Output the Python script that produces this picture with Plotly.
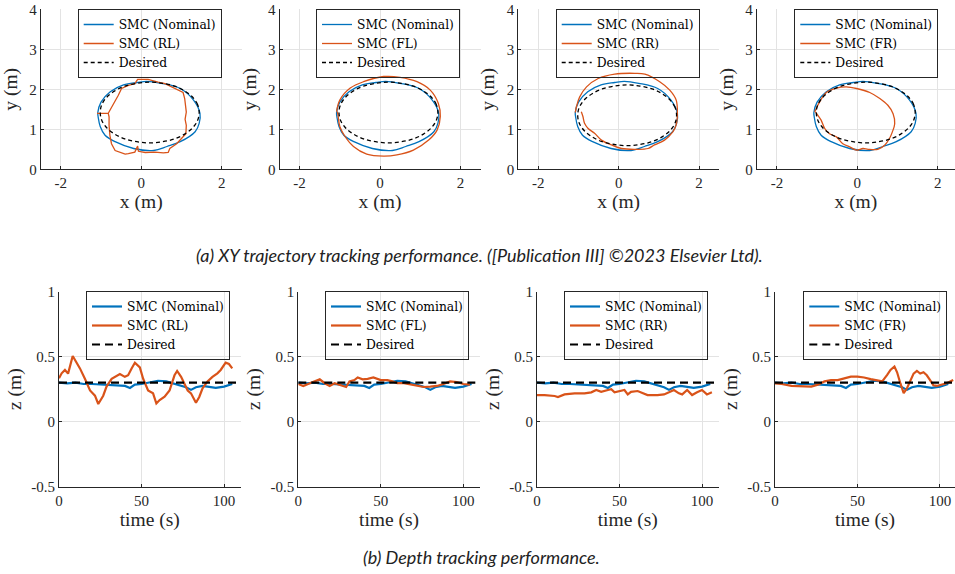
import plotly.graph_objects as go

BLUE = "#0072BD"
ORANGE = "#D95319"
AXC = "#262626"
GRID = "#e3e3e3"
SERIF = "Liberation Serif"

# ---------------- XY data (m) ----------------
nom_x = [-1.08, -1.00, -0.77, -0.44, -0.10, 0.14, 0.50, 0.97, 1.30, 1.46, 1.44, 1.34, 0.97, 0.64, 0.31, -0.19, -0.65, -0.90, -1.02, -1.07, -1.08]
nom_y = [1.42, 1.68, 1.94, 2.11, 2.17, 2.20, 2.15, 2.02, 1.73, 1.40, 1.15, 0.94, 0.69, 0.57, 0.47, 0.52, 0.69, 0.85, 1.07, 1.30, 1.42]

des_x = [1.44, 1.40, 1.28, 1.08, 0.83, 0.53, 0.21, -0.11, -0.41, -0.66, -0.86, -0.98, -1.02, -0.98, -0.86, -0.66, -0.41, -0.11, 0.21, 0.53, 0.83, 1.08, 1.28, 1.40, 1.44]
des_y = [1.42, 1.62, 1.80, 1.96, 2.08, 2.15, 2.18, 2.15, 2.08, 1.96, 1.80, 1.62, 1.42, 1.22, 1.04, 0.88, 0.76, 0.69, 0.66, 0.69, 0.76, 0.88, 1.04, 1.22, 1.42]
des3_y = [1.35, 1.55, 1.73, 1.89, 2.01, 2.08, 2.11, 2.08, 2.01, 1.89, 1.73, 1.55, 1.35, 1.15, 0.97, 0.81, 0.69, 0.62, 0.59, 0.62, 0.69, 0.81, 0.97, 1.15, 1.35]

rl_x = [-1.10, -0.95, -0.82, -0.80, -0.80, -0.78, -0.74, -0.65, -0.53, -0.40, -0.32, -0.16, -0.09, -0.07, 0.10, 0.34, 0.55, 0.67, 0.71, 0.88, 1.00, 1.11, 1.12, 1.09, 1.12, 1.10, 1.08, 1.04, 0.92, 0.75, 0.59, 0.42, 0.17, -0.09, -0.12, -0.16, -0.32, -0.49, -0.57, -0.69, -0.78, -0.82]
rl_y = [1.40, 1.41, 1.40, 1.31, 1.10, 0.85, 0.64, 0.47, 0.42, 0.38, 0.39, 0.43, 0.58, 0.45, 0.42, 0.43, 0.41, 0.42, 0.52, 0.64, 0.77, 0.89, 1.10, 1.25, 1.43, 1.60, 1.77, 1.92, 1.98, 2.06, 2.14, 2.18, 2.25, 2.25, 2.20, 2.14, 2.10, 2.02, 1.85, 1.64, 1.50, 1.40]

fl_x = [-1.08, -1.00, -0.74, -0.41, 0.09, 0.50, 0.92, 1.25, 1.45, 1.50, 1.42, 1.21, 0.83, 0.42, 0.09, -0.33, -0.66, -0.87, -1.00, -1.04, -1.06]
fl_y = [1.44, 1.73, 2.03, 2.19, 2.32, 2.30, 2.19, 1.98, 1.65, 1.32, 0.98, 0.73, 0.48, 0.36, 0.33, 0.38, 0.57, 0.82, 1.07, 1.32, 1.44]

rr_x = [-1.08, -1.05, -0.97, -0.80, -0.51, -0.10, 0.40, 0.65, 1.02, 1.27, 1.43, 1.46, 1.43, 1.35, 1.14, 0.89, 0.73, 0.40, 0.07, -0.18, -0.43, -0.60, -0.76, -0.85, -0.89, -0.93]
rr_y = [1.42, 1.57, 1.81, 2.06, 2.27, 2.38, 2.40, 2.38, 2.19, 1.98, 1.73, 1.40, 1.11, 0.94, 0.73, 0.61, 0.52, 0.50, 0.52, 0.61, 0.73, 0.90, 1.02, 1.15, 1.32, 1.44]

fr_x = [-1.06, -0.94, -0.77, -0.52, -0.27, -0.02, 0.31, 0.56, 0.76, 0.89, 0.93, 0.87, 0.80, 0.68, 0.51, 0.27, 0.14, -0.02, -0.19, -0.36, -0.52, -0.69, -0.81, -0.90, -0.98, -1.04]
fr_y = [1.43, 1.68, 1.92, 2.03, 2.06, 2.02, 1.92, 1.77, 1.60, 1.39, 1.14, 0.93, 0.77, 0.60, 0.50, 0.50, 0.52, 0.48, 0.56, 0.64, 0.81, 0.89, 1.02, 1.23, 1.35, 1.43]

# ---------------- depth data ----------------
t_nom = [0, 5, 10, 15, 20, 25, 30, 35, 40, 43, 46, 50, 55, 60, 65, 70, 74, 77, 80, 83, 87, 91, 95, 100, 105]
z_nom = [0.30, 0.295, 0.30, 0.29, 0.29, 0.285, 0.285, 0.28, 0.275, 0.26, 0.285, 0.29, 0.305, 0.315, 0.31, 0.29, 0.28, 0.265, 0.245, 0.265, 0.275, 0.27, 0.26, 0.27, 0.29]
t_des = [0, 110]
z_des = [0.3, 0.3]

t_rl = [0, 1.6, 3.6, 5.5, 8.3, 12.7, 15.7, 18.8, 21.8, 23.8, 26.8, 28.8, 31.9, 33.9, 36.9, 39.9, 41.9, 44, 46, 49, 51, 54, 57, 59, 61, 64, 67, 70, 71.6, 74, 76, 78, 80, 83, 85, 87, 90, 93, 96, 98, 101, 103, 105]
z_rl = [0.334, 0.372, 0.398, 0.37, 0.505, 0.41, 0.33, 0.24, 0.20, 0.136, 0.20, 0.27, 0.33, 0.345, 0.367, 0.345, 0.357, 0.41, 0.454, 0.418, 0.33, 0.24, 0.218, 0.14, 0.167, 0.193, 0.24, 0.357, 0.39, 0.345, 0.29, 0.24, 0.218, 0.146, 0.19, 0.257, 0.31, 0.345, 0.372, 0.398, 0.454, 0.444, 0.41]

t_fl = [0, 3, 7, 13, 16, 19, 22, 25, 29, 31, 34, 36, 39, 42, 45.5, 50, 54, 57, 60, 64, 68, 72, 76, 80, 84, 88, 92, 96, 100, 104]
z_fl = [0.29, 0.275, 0.296, 0.326, 0.296, 0.275, 0.296, 0.285, 0.267, 0.31, 0.32, 0.34, 0.326, 0.33, 0.34, 0.32, 0.32, 0.31, 0.296, 0.296, 0.285, 0.275, 0.267, 0.27, 0.275, 0.29, 0.31, 0.305, 0.29, 0.285]

t_rr = [0, 4.6, 10.7, 12.7, 16.7, 22.8, 28.8, 32.9, 35.9, 38.9, 43, 45, 47, 50, 53, 55, 57, 61, 64, 67, 73, 77, 80, 83, 86, 88, 91, 94, 97, 100, 103, 106]
z_rr = [0.205, 0.205, 0.198, 0.19, 0.21, 0.218, 0.218, 0.226, 0.244, 0.23, 0.244, 0.25, 0.226, 0.233, 0.244, 0.21, 0.23, 0.236, 0.218, 0.205, 0.205, 0.21, 0.226, 0.244, 0.218, 0.21, 0.244, 0.205, 0.226, 0.244, 0.21, 0.226]

t_fr = [0, 4, 10, 16, 22, 26, 30, 34, 38, 42, 46, 50, 54, 58, 62, 65, 68, 70, 72.4, 74, 76, 78, 80, 82, 84, 86, 88, 90, 92, 94, 96, 98, 100, 104, 108]
z_fr = [0.294, 0.29, 0.275, 0.275, 0.27, 0.285, 0.31, 0.32, 0.32, 0.333, 0.346, 0.346, 0.34, 0.328, 0.32, 0.31, 0.36, 0.398, 0.425, 0.38, 0.294, 0.22, 0.257, 0.32, 0.37, 0.39, 0.37, 0.38, 0.357, 0.32, 0.28, 0.275, 0.283, 0.296, 0.32]

cases = ["RL", "FL", "RR", "FR"]
xy_runs = [(rl_x, rl_y), (fl_x, fl_y), (rr_x, rr_y), (fr_x, fr_y)]
xy_des = [des_y, des_y, des3_y, des_y]
z_runs = [(t_rl, z_rl), (t_fl, z_fl), (t_rr, z_rr), (t_fr, z_fr)]

xy_ticks = [-2, 0, 2]
xy_ticktext = ["-2", "0", "2"]
y_ticks = [0, 1, 2, 3, 4]
t_ticks = [0, 50, 100]
z_ticks = [-0.5, 0, 0.5, 1]
z_ticktext = ["-0.5", "0", "0.5", "1"]

W, H = 955, 574
top_x_px = [(40.7, 241.8), (279.5, 480.5), (518.2, 719.2), (756.8, 955)]
top_xrange = [(-2.5, 2.5), (-2.5, 2.5), (-2.5, 2.5), (-2.5, 2.43)]
top_y_px = (9.3, 169.3)
bot_x_px = [(59, 240.5), (298.3, 479.8), (537, 718.5), (775, 955)]
bot_xrange = [(0, 110), (0, 110), (0, 110), (0, 109.1)]
bot_y_px = (291.7, 486.7)
top_leg_px = [77.7, 316, 555.7, 794.3]
bot_leg_px = [86, 325, 564, 803.3]

TICKF = dict(family=SERIF, size=15, color=AXC)
TITLEF = dict(family=SERIF, size=19.5, color=AXC)
LEGF = dict(family="DejaVu Serif", size=12.3, color="black")

fig = go.Figure()
layout = dict(width=W, height=H, autosize=False, margin=dict(l=0, r=0, t=0, b=0),
              plot_bgcolor="white", paper_bgcolor="white", showlegend=True)


def axis_common():
    return dict(showline=True, linecolor=AXC, linewidth=1, mirror=False,
                showgrid=True, gridcolor=GRID, gridwidth=1, zeroline=False,
                ticks="inside", ticklen=3, tickcolor=AXC, tickfont=TICKF,
                automargin=False)


def legend_box(xpx, ypx):
    return dict(x=xpx / W, y=1 - ypx / H, xanchor="left", yanchor="top",
                bgcolor="rgba(255,255,255,0)", bordercolor=AXC, borderwidth=1,
                font=LEGF, tracegroupgap=0, itemwidth=30)


for i in range(4):
    n = i + 1
    sfx = str(n) if n > 1 else ""
    xa, ya, leg = "x" + sfx, "y" + sfx, "legend" + sfx
    rx, ry = xy_runs[i]
    fig.add_trace(go.Scatter(x=nom_x, y=nom_y, mode="lines", name="SMC (Nominal)",
                             line=dict(color=BLUE, width=1.3, shape="spline"),
                             xaxis=xa, yaxis=ya, legend=leg))
    fig.add_trace(go.Scatter(x=rx, y=ry, mode="lines", name=f"SMC ({cases[i]})",
                             line=dict(color=ORANGE, width=1.3,
                                       shape="linear" if i == 0 else "spline"),
                             xaxis=xa, yaxis=ya, legend=leg))
    fig.add_trace(go.Scatter(x=des_x, y=xy_des[i], mode="lines", name="Desired",
                             line=dict(color="black", width=1.3, dash="4px,3px", shape="spline"),
                             xaxis=xa, yaxis=ya, legend=leg))
    ax = axis_common()
    ax.update(domain=[top_x_px[i][0] / W, min(top_x_px[i][1] / W, 1.0)],
              range=list(top_xrange[i]), tickvals=xy_ticks, ticktext=xy_ticktext,
              anchor=ya, title=dict(text="x (m)", font=TITLEF, standoff=3))
    ay = axis_common()
    ay.update(domain=[1 - top_y_px[1] / H, 1 - top_y_px[0] / H], range=[0, 4],
              tickvals=y_ticks, anchor=xa,
              title=dict(text="y (m)", font=TITLEF, standoff=6))
    layout["xaxis" + sfx] = ax
    layout["yaxis" + sfx] = ay
    layout[leg] = legend_box(top_leg_px[i], 9)

for i in range(4):
    n = i + 5
    sfx = str(n)
    xa, ya, leg = "x" + sfx, "y" + sfx, "legend" + sfx
    tx, tz = z_runs[i]
    fig.add_trace(go.Scatter(x=t_nom, y=z_nom, mode="lines", name="SMC (Nominal)",
                             line=dict(color=BLUE, width=2.2),
                             xaxis=xa, yaxis=ya, legend=leg))
    fig.add_trace(go.Scatter(x=tx, y=tz, mode="lines", name=f"SMC ({cases[i]})",
                             line=dict(color=ORANGE, width=2.2),
                             xaxis=xa, yaxis=ya, legend=leg))
    fig.add_trace(go.Scatter(x=t_des, y=z_des, mode="lines", name="Desired",
                             line=dict(color="black", width=2.2, dash="8px,5px"),
                             xaxis=xa, yaxis=ya, legend=leg))
    ax = axis_common()
    ax.update(domain=[bot_x_px[i][0] / W, min(bot_x_px[i][1] / W, 1.0)],
              range=list(bot_xrange[i]), tickvals=t_ticks, anchor=ya,
              title=dict(text="time (s)", font=TITLEF, standoff=3))
    ay = axis_common()
    ay.update(domain=[1 - bot_y_px[1] / H, 1 - bot_y_px[0] / H], range=[-0.5, 1],
              tickvals=z_ticks, ticktext=z_ticktext, anchor=xa,
              title=dict(text="z (m)", font=TITLEF, standoff=4))
    layout["xaxis" + sfx] = ax
    layout["yaxis" + sfx] = ay
    layout[leg] = legend_box(bot_leg_px[i], 291)

CAPF = dict(family="Lato", size=18, color="#222222")
layout["annotations"] = [
    dict(text="<i>(a) XY trajectory tracking performance. ([Publication III] ©2023 Elsevier Ltd).</i>",
         x=479 / W, y=1 - 255 / H, xref="paper", yref="paper", showarrow=False,
         xanchor="center", yanchor="middle", font=CAPF),
    dict(text="<i>(b) Depth tracking performance.</i>",
         x=481 / W, y=1 - 557 / H, xref="paper", yref="paper", showarrow=False,
         xanchor="center", yanchor="middle", font=CAPF),
]

fig.update_layout(**layout)
fig.write_html("out.html")
